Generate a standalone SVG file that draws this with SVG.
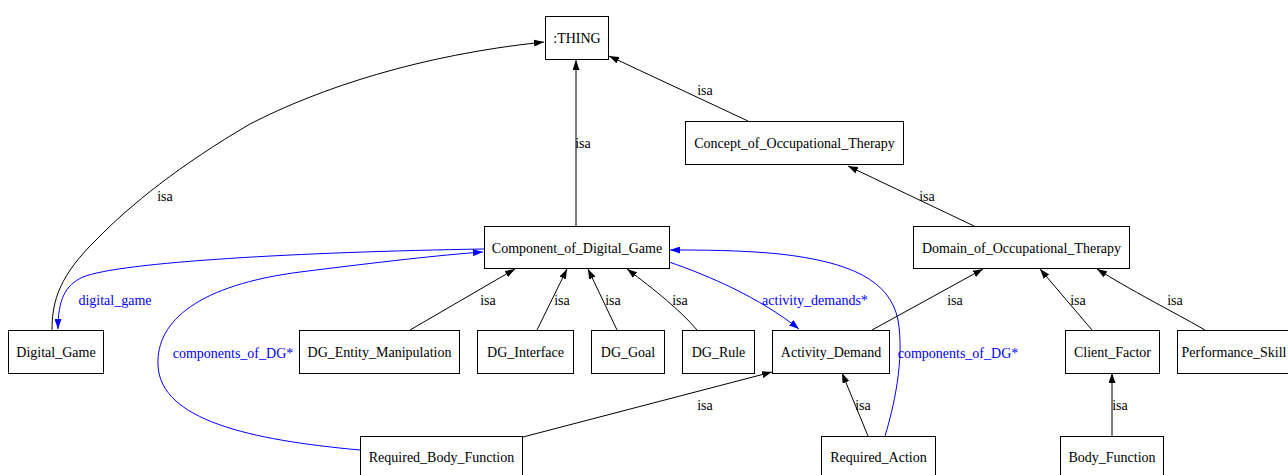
<svg xmlns="http://www.w3.org/2000/svg" width="1288" height="475" viewBox="0 0 1288 475">
<style>
.n rect{fill:#fff;stroke:#000;stroke-width:1}
.n text{font-family:"Liberation Serif","Times New Roman",serif;font-size:14px;fill:#000;text-anchor:middle}
.e path{fill:none;stroke-width:1}
.k{stroke:#000}
.b{stroke:#0000ff}
.l{font-family:"Liberation Serif","Times New Roman",serif;font-size:14px;text-anchor:middle}
.lk{fill:#000}
.lb{fill:#0000ff}
</style>
<defs>
<marker id="ak" viewBox="0 0 10 7" refX="10" refY="3.5" markerWidth="10" markerHeight="7" markerUnits="userSpaceOnUse" orient="auto"><path d="M0,0L10,3.5L0,7z" fill="#000"/></marker>
<marker id="ab" viewBox="0 0 10 7" refX="10" refY="3.5" markerWidth="10" markerHeight="7" markerUnits="userSpaceOnUse" orient="auto"><path d="M0,0L10,3.5L0,7z" fill="#0000ff"/></marker>
</defs>
<rect width="1288" height="475" fill="#fff"/>
<g id="connectors" class="e">
<path class="k" marker-end="url(#ak)" d="M52,330 C52,300 60,275 97,239 C130,205 180,165 250,124 C320,88 420,55 544,42"/>
<path class="k" marker-end="url(#ak)" d="M576,226 L576,60"/>
<path class="k" marker-end="url(#ak)" d="M748,121 L609,56"/>
<path class="k" marker-end="url(#ak)" d="M974,226 L848,166"/>
<path class="b" marker-end="url(#ab)" d="M484,249 C300,252 120,262 83,277 C65,285 58,300 58,329"/>
<path class="b" marker-end="url(#ab)" d="M360,450 C250,440 160,420 158,365 C156,320 200,285 300,272 C380,262 440,255 483,252"/>
<path class="b" marker-end="url(#ab)" d="M669,262 C710,276 760,298 799,329"/>
<path class="b" marker-end="url(#ab)" d="M885,436 C893,410 905,360 898,320 C890,280 850,262 780,254 C740,250 700,250 670,250"/>
<path class="k" marker-end="url(#ak)" d="M410,330 L515,269"/>
<path class="k" marker-end="url(#ak)" d="M537,330 L567,269"/>
<path class="k" marker-end="url(#ak)" d="M617,330 L588,269"/>
<path class="k" marker-end="url(#ak)" d="M697,330 C680,310 655,290 627,269"/>
<path class="k" marker-end="url(#ak)" d="M872,330 L983,269"/>
<path class="k" marker-end="url(#ak)" d="M1092,330 L1040,269"/>
<path class="k" marker-end="url(#ak)" d="M1205,330 C1170,310 1130,290 1097,269"/>
<path class="k" marker-end="url(#ak)" d="M523,437 L772,372"/>
<path class="k" marker-end="url(#ak)" d="M868,436 L842,373"/>
<path class="k" marker-end="url(#ak)" d="M1112,436 L1112,373"/>
<text class="l lk" x="165" y="201">isa</text>
<text class="l lk" x="583" y="148">isa</text>
<text class="l lk" x="705" y="95">isa</text>
<text class="l lk" x="927" y="201">isa</text>
<text class="l lb" x="115" y="305">digital_game</text>
<text class="l lb" x="233" y="358">components_of_DG*</text>
<text class="l lb" x="815" y="305">activity_demands*</text>
<text class="l lb" x="958" y="358">components_of_DG*</text>
<text class="l lk" x="488" y="305">isa</text>
<text class="l lk" x="562" y="305">isa</text>
<text class="l lk" x="613" y="305">isa</text>
<text class="l lk" x="680" y="305">isa</text>
<text class="l lk" x="955" y="305">isa</text>
<text class="l lk" x="1078" y="305">isa</text>
<text class="l lk" x="1175" y="305">isa</text>
<text class="l lk" x="705" y="410">isa</text>
<text class="l lk" x="863" y="410">isa</text>
<text class="l lk" x="1120" y="410">isa</text>
</g>
<g id="THING" class="n"><rect x="545.5" y="16.5" width="63" height="43"/><text x="577" y="43">:THING</text></g>
<g id="Concept_of_Occupational_Therapy" class="n"><rect x="685.5" y="121.5" width="218" height="43"/><text x="794.5" y="148">Concept_of_Occupational_Therapy</text></g>
<g id="Component_of_Digital_Game" class="n"><rect x="484.5" y="226.5" width="185" height="42"/><text x="577" y="253">Component_of_Digital_Game</text></g>
<g id="Domain_of_Occupational_Therapy" class="n"><rect x="913.5" y="226.5" width="216" height="42"/><text x="1021.5" y="253">Domain_of_Occupational_Therapy</text></g>
<g id="Digital_Game" class="n"><rect x="8.5" y="330.5" width="95" height="43"/><text x="56" y="357">Digital_Game</text></g>
<g id="DG_Entity_Manipulation" class="n"><rect x="299.5" y="330.5" width="160" height="43"/><text x="379.5" y="357">DG_Entity_Manipulation</text></g>
<g id="DG_Interface" class="n"><rect x="477.5" y="330.5" width="96" height="43"/><text x="525.5" y="357">DG_Interface</text></g>
<g id="DG_Goal" class="n"><rect x="591.5" y="330.5" width="73" height="43"/><text x="628" y="357">DG_Goal</text></g>
<g id="DG_Rule" class="n"><rect x="682.5" y="330.5" width="72" height="43"/><text x="718.5" y="357">DG_Rule</text></g>
<g id="Activity_Demand" class="n"><rect x="772.5" y="330.5" width="117" height="43"/><text x="831" y="357">Activity_Demand</text></g>
<g id="Client_Factor" class="n"><rect x="1065.5" y="330.5" width="94" height="43"/><text x="1112.5" y="357">Client_Factor</text></g>
<g id="Performance_Skill" class="n"><rect x="1177.5" y="330.5" width="112" height="43"/><text x="1234" y="357">Performance_Skill</text></g>
<g id="Required_Body_Function" class="n"><rect x="360.5" y="436.5" width="162" height="43"/><text x="441.5" y="462">Required_Body_Function</text></g>
<g id="Required_Action" class="n"><rect x="821.5" y="436.5" width="114" height="43"/><text x="878.5" y="462">Required_Action</text></g>
<g id="Body_Function" class="n"><rect x="1060.5" y="436.5" width="103" height="43"/><text x="1112" y="462">Body_Function</text></g>
</svg>
